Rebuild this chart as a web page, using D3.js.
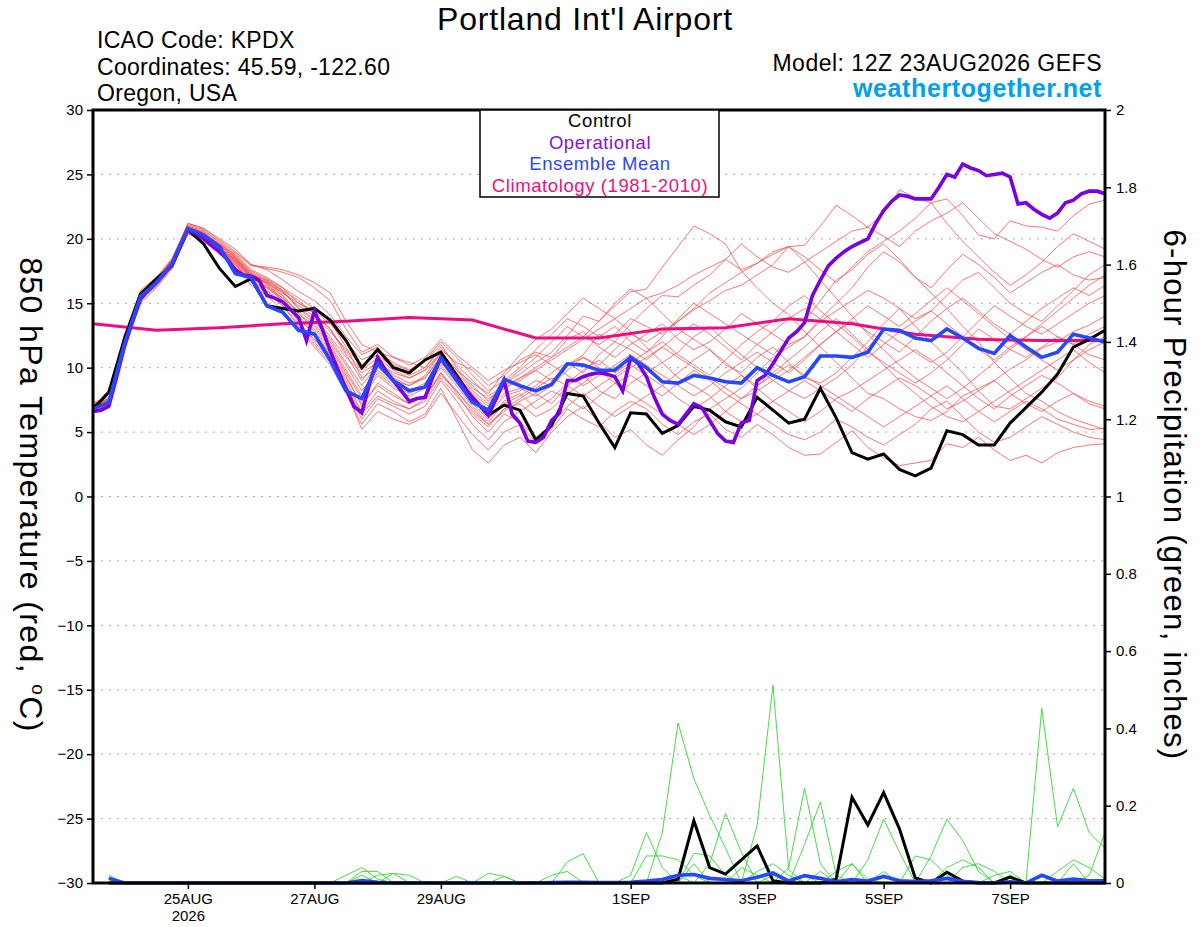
<!DOCTYPE html>
<html><head><meta charset="utf-8">
<script src="https://cdn.jsdelivr.net/npm/d3@7"></script>
<style>
body{margin:0;background:#fff}
svg{display:block}
text{font-family:"Liberation Sans",Arial,Helvetica,sans-serif}
</style>
</head><body>
<svg id="chart" width="1200" height="927"></svg>
<script>
// ---------------- DATA ----------------
const runStart = "2026-08-23T12:00:00Z";
const xTickDates = ["2026-08-25","2026-08-27","2026-08-29","2026-09-01","2026-09-03","2026-09-05","2026-09-07"];
const tempTicks = [-30,-25,-20,-15,-10,-5,0,5,10,15,20,25,30];
const tempGrid = [-25,-20,-15,-10,-5,0,5,10,15,20,25];
const precipTicks = [0,0.2,0.4,0.6,0.8,1,1.2,1.4,1.6,1.8,2];
const legendItems = ["Control","Operational","Ensemble Mean","Climatology (1981-2010)"];

// 6-hourly control 850 hPa temperature (65 steps)
const controlTemp = [6.8,8.1,12.3,15.7,16.9,17.9,20.7,19.6,17.7,16.3,
16.9,14.8,14.6,14.4,14.6,13.7,12.1,10.0,11.4,10.0,
9.6,10.6,11.2,9.4,7.6,6.3,7.1,6.7,4.4,5.5,
8.0,7.8,5.7,3.8,6.5,6.4,4.9,5.5,7.0,6.7,
5.8,5.4,7.7,6.7,5.7,6.0,8.4,6.1,3.4,2.9,
3.3,2.1,1.6,2.2,5.1,4.8,4.0,4.0,5.7,6.9,
8.1,9.5,11.6,12.2,12.9];

// 3-hourly operational (129 steps)
const operationalTemp = [6.6,6.7,7.0,9.3,11.7,13.6,15.3,16.0,16.6,17.3,
18.0,19.4,20.7,20.4,20.0,19.5,19.0,18.4,17.6,17.2,
17.1,16.8,15.6,15.4,15.1,14.5,13.9,12.1,14.4,13.0,
11.3,9.8,8.4,7.0,6.5,8.8,10.8,9.8,9.0,8.2,
7.4,7.6,7.7,9.3,10.8,10.0,9.2,8.4,7.7,7.0,
6.3,7.6,9.0,6.4,5.7,4.3,4.2,4.6,5.9,6.5,
9.0,9.0,9.3,9.5,9.6,9.5,9.3,8.2,10.8,10.3,
9.3,7.7,6.4,5.9,5.6,6.4,7.2,6.9,5.9,4.9,
4.3,4.2,5.7,5.9,9.0,9.4,10.3,11.3,12.3,12.8,
13.5,15.6,16.8,17.9,18.5,19.0,19.4,19.7,20.0,21.2,
22.2,22.9,23.4,23.3,23.1,23.1,23.1,24.0,25.0,24.8,
25.8,25.5,25.3,24.9,25.0,25.1,24.8,22.7,22.8,22.3,
21.9,21.6,22.0,22.8,23.0,23.5,23.7,23.7,23.5];

// 6-hourly ensemble mean
const meanTemp = [6.8,7.3,11.9,15.5,16.6,18.1,20.8,20.3,19.4,17.3,
17.0,14.8,14.3,12.9,12.6,10.6,8.2,7.6,10.3,9.0,
8.2,8.5,10.7,9.0,7.3,6.7,9.1,8.6,8.2,8.7,
10.3,10.2,9.8,9.8,10.8,10.0,8.9,8.8,9.4,9.2,
8.9,8.8,10.0,9.4,8.9,9.3,10.9,10.9,10.8,11.2,
13.0,12.9,12.3,12.1,13.0,12.3,11.5,11.1,12.5,11.6,
10.8,11.2,12.6,12.3,12.0];

// daily (12Z) climatology
const climTemp = [13.4,12.9,13.1,13.4,13.6,13.9,13.7,12.3,12.3,13.0,13.1,13.8,13.4,12.6,12.2,12.1,12.1];

// ensemble members, 6-hourly
const mem01 = [7.0,7.2,12.3,15.8,16.9,18.3,21.2,20.8,20.0,19.2,18.0, 17.6,16.8,15.9,15.2,14.1,12.4,11.0,11.6,10.2,9.8,10.5,11.8, 10.0,8.6,7.4,8.8,9.5,10.4,11.2,12.5,14.0,13.6,14.8,15.9, 16.1,17.8,19.4,21.0,20.4,19.6,17.5,16.2,15.0,14.1,12.8,11.6, 10.4,9.2,8.0,7.6,6.8,6.2,5.9,6.6,7.8,8.4,9.0,9.9, 10.6,11.5,12.0,12.8,13.3,14.0];
const mem02 = [6.6,7.0,11.6,15.2,16.4,17.9,20.6,20.4,19.6,18.8,17.6, 17.0,16.2,15.0,14.2,13.0,11.0,9.0,10.6,9.4,8.8,9.2,10.9, 9.2,7.8,6.8,8.0,8.4,7.8,8.6,9.8,10.8,10.2,11.4,12.6, 12.0,12.8,13.6,14.5,15.2,16.0,16.4,17.2,18.0,19.4,19.5,21.0, 22.6,21.8,20.9,22.0,23.8,23.2,22.8,23.1,21.8,20.3,20.0,21.4, 21.0,20.9,20.6,21.8,22.7,23.0];
const mem03 = [6.9,7.5,12.0,15.6,16.5,18.0,20.5,20.0,19.0,18.0,16.8, 16.0,15.0,13.8,12.6,11.0,9.0,6.5,8.2,7.4,6.8,7.6,9.6, 8.0,6.2,5.0,6.4,5.8,4.6,5.2,6.8,6.0,5.4,6.6,7.4, 6.8,5.6,4.8,5.8,6.4,5.2,4.6,5.6,4.8,3.8,3.2,3.3, 4.2,5.1,3.8,3.0,2.4,2.6,2.8,4.1,3.8,4.6,3.6,2.8, 3.2,2.6,3.4,3.8,4.0,4.1];
const mem04 = [7.2,7.6,12.6,15.9,16.8,18.4,21.0,20.6,19.8,18.9,17.9, 17.8,17.6,17.2,16.6,15.8,13.6,11.8,11.2,10.8,10.4,10.0,11.4, 10.4,9.8,8.6,9.4,10.6,11.2,10.8,12.2,12.8,11.6,10.8,11.8, 12.6,13.4,12.2,11.4,12.0,13.0,14.2,13.4,12.6,11.8,12.4,13.6, 14.4,15.2,16.0,15.4,14.6,13.8,14.4,15.6,16.8,17.4,16.2,15.0, 14.2,13.6,14.8,16.0,17.2,18.0];
const mem05 = [6.5,6.9,11.4,15.0,16.2,17.7,20.4,19.8,18.8,17.8,16.4, 15.6,14.4,13.0,11.6,10.2,8.0,5.6,7.2,6.6,5.8,6.4,8.4, 6.0,3.6,2.6,4.0,4.6,3.4,5.0,6.2,7.0,5.8,4.6,5.2, 4.0,3.2,4.4,5.4,6.8,7.6,8.4,9.6,10.8,11.6,12.4,13.8, 15.0,16.2,17.8,19.0,18.2,17.0,15.8,14.6,13.2,12.0,10.4,9.2, 8.0,7.4,6.6,6.0,5.6,5.2];
const mem06 = [7.1,7.4,12.2,15.7,16.7,18.2,20.9,20.5,19.5,18.6,17.4, 16.8,16.0,14.6,13.8,12.4,10.8,9.6,10.4,9.6,9.2,9.8,11.0, 9.6,8.2,7.2,8.8,9.8,10.8,12.0,13.2,12.4,13.6,15.0,16.1, 15.4,14.2,13.0,12.2,11.4,10.2,9.6,10.8,11.6,10.4,9.2,8.8, 9.6,10.8,12.0,13.4,14.6,13.2,12.0,10.8,9.6,8.2,7.0,6.8, 7.6,8.4,9.2,10.6,11.8,12.4];
const mem07 = [6.8,7.1,11.8,15.4,16.6,18.0,20.7,20.2,19.3,18.4,17.1, 16.4,15.6,14.2,13.2,11.8,9.8,7.8,9.6,8.6,8.0,8.6,10.2, 8.8,7.4,6.4,7.8,8.2,9.0,8.6,10.2,11.0,12.6,12.0,13.4, 14.6,15.6,15.5,16.4,17.2,18.4,19.6,18.6,17.8,17.4,18.2,19.0, 19.8,20.6,20.9,20.2,19.4,20.6,21.4,22.0,22.8,21.6,20.4,19.8, 19.2,18.4,17.8,18.6,19.0,18.6];
const mem08 = [7.0,7.3,12.1,15.6,16.6,18.1,20.8,20.3,19.4,18.3,17.0, 16.2,15.4,14.0,12.8,11.4,9.4,7.0,8.8,8.0,7.2,7.8,9.4, 8.2,6.8,5.6,6.6,7.4,8.0,7.2,8.6,9.4,8.2,7.6,8.8, 9.6,10.4,9.2,8.6,7.8,6.6,5.8,6.4,5.6,4.8,4.4,5.0, 6.0,5.4,4.6,4.0,4.8,5.6,6.8,7.4,6.2,5.0,4.2,4.6, 5.4,6.2,5.6,5.0,4.6,4.4];
const mem09 = [6.7,7.0,11.7,15.3,16.5,17.9,20.6,20.1,19.2,18.2,17.0, 16.6,15.8,15.0,14.4,13.4,12.0,10.6,11.2,10.4,9.8,10.6,12.0, 10.8,9.4,8.2,9.0,10.0,11.4,12.6,13.8,13.2,12.4,13.2,12.0, 11.2,12.4,13.8,15.0,14.2,13.4,12.6,11.8,11.0,12.2,13.6,15.2, 16.8,17.6,18.8,19.6,18.4,17.0,16.2,17.6,18.8,18.0,17.0,15.8, 16.6,17.4,18.0,17.2,16.8,17.0];
const mem10 = [6.9,7.4,12.4,15.8,16.8,18.2,20.9,20.4,19.3,18.0,16.6, 15.8,14.8,13.4,12.2,10.8,8.6,6.0,7.6,7.0,6.4,7.0,9.0, 7.4,5.6,4.4,5.8,6.6,7.4,8.2,7.6,6.8,7.8,8.8,9.4, 8.6,7.8,8.8,9.8,9.0,8.0,7.2,6.4,7.4,8.2,9.0,8.2, 7.4,6.6,7.6,8.4,9.2,8.6,7.8,6.8,7.4,8.2,9.0,8.0, 7.2,6.6,7.4,8.0,7.4,7.0];
const mem11 = [7.3,7.7,12.5,16.0,17.0,18.5,21.1,20.7,19.7,18.7,17.5, 16.9,16.2,15.4,14.6,13.6,11.6,9.2,10.0,9.0,8.6,9.4,11.2, 9.8,8.8,8.0,9.6,11.0,12.2,13.0,14.2,15.4,14.6,13.8,12.8, 11.6,10.4,11.2,12.4,13.2,12.0,11.0,10.0,9.0,8.2,7.6,8.4, 9.2,10.2,11.6,12.8,12.0,11.2,10.4,11.2,12.4,13.6,14.8,14.0, 13.2,12.6,13.4,14.2,15.0,15.6];
const mem12 = [6.6,7.1,11.9,15.4,16.4,17.8,20.5,20.0,19.1,18.1,16.9, 16.3,15.4,14.4,13.4,12.0,10.2,8.2,9.8,8.8,8.2,8.8,10.4, 9.0,7.2,6.0,7.4,8.0,6.8,7.6,8.8,9.8,10.6,9.6,10.4, 11.2,12.0,11.0,10.2,9.4,10.6,11.8,12.8,13.6,14.8,15.6,14.4, 13.4,12.4,11.2,10.4,9.6,8.8,9.6,10.6,11.8,13.0,12.2,11.4, 10.8,11.6,12.4,11.8,11.0,10.6];
const mem13 = [7.0,7.5,12.2,15.7,16.8,18.3,21.0,20.5,19.6,18.6,17.3, 16.5,15.2,13.6,12.0,10.6,8.2,5.2,6.6,6.0,5.6,6.2,8.0, 6.4,4.8,3.6,5.0,5.6,4.2,5.6,7.0,8.0,7.0,6.2,7.0, 7.8,8.6,7.6,6.8,7.6,8.6,9.4,8.4,7.4,6.6,5.8,6.6, 7.6,8.2,9.0,9.8,10.6,11.4,10.6,9.6,8.6,7.6,6.8,7.8, 8.6,9.4,8.8,8.0,7.2,6.8];
const mem14 = [6.8,7.2,12.0,15.5,16.6,18.0,20.6,20.2,19.2,18.3,17.1, 16.6,15.8,14.8,14.0,12.8,11.4,10.2,11.0,10.0,9.4,10.0,11.6, 10.2,9.0,7.8,8.6,9.2,10.0,10.8,11.6,12.4,11.8,12.6,13.8, 13.2,12.6,13.6,14.6,15.8,16.6,17.4,18.1,19.0,19.4,18.6,17.6, 16.6,17.8,19.0,19.8,20.6,21.6,22.8,21.2,19.8,18.6,17.4,16.4, 17.2,18.2,19.4,20.4,19.8,19.2];
const mem15 = [7.1,7.6,12.4,15.8,16.9,18.4,21.2,20.8,19.9,19.0,18.0, 17.7,17.4,17.0,16.2,15.2,13.0,11.2,11.8,10.8,10.2,10.8,12.2, 11.0,10.0,9.0,9.8,10.4,11.0,10.2,9.4,8.6,9.4,10.2,11.0, 10.2,9.4,8.6,7.8,8.6,9.6,10.4,11.2,10.4,9.6,10.6,11.8, 12.8,13.6,12.8,12.0,11.2,12.4,13.6,14.6,15.4,14.4,13.4,12.6, 13.6,14.6,15.4,16.2,15.6,16.4];
const mem16 = [6.7,7.1,11.8,15.3,16.3,17.8,20.4,19.9,18.9,17.9,16.7, 15.9,14.8,13.2,11.8,10.4,8.6,6.4,7.8,7.2,6.8,7.4,9.2, 7.8,6.4,5.4,6.8,7.6,8.4,9.2,8.6,7.8,8.6,9.4,10.2, 9.4,8.6,9.6,10.6,11.4,10.4,9.4,8.6,9.4,10.2,9.4,8.6, 7.8,7.0,6.2,5.4,6.2,7.0,7.8,8.6,7.6,6.6,5.8,6.6, 7.4,6.8,6.0,5.6,5.2,5.3];
const mem17 = [7.0,7.4,12.2,15.6,16.7,18.2,20.9,20.4,19.5,18.5,17.2, 16.6,15.6,14.2,13.0,11.6,9.6,7.6,9.4,8.4,7.8,8.4,10.0, 8.6,7.0,5.8,7.2,7.8,8.6,9.6,10.4,9.6,11.0,12.0,11.4, 10.6,11.6,12.6,13.4,12.6,11.6,10.6,11.8,12.8,13.8,14.6,13.8, 12.8,11.8,10.8,11.8,12.8,13.6,14.4,13.4,12.4,11.4,10.6,11.6, 12.4,13.2,12.4,11.8,12.6,13.2];
const mem18 = [6.9,7.3,12.0,15.5,16.5,18.0,20.7,20.2,19.3,18.4,17.2, 16.8,16.0,15.2,14.2,13.0,11.2,9.8,10.8,9.8,9.2,9.8,11.2, 9.8,8.4,7.6,8.4,9.2,9.8,9.0,10.2,10.8,10.0,9.2,10.0, 10.8,11.6,10.8,10.0,9.2,8.4,7.6,8.2,9.0,9.8,10.8,11.8, 12.8,13.8,14.8,14.0,13.2,14.2,15.2,16.2,15.2,14.2,13.2,12.2, 11.4,10.6,9.8,10.6,11.4,12.0];
const mem19 = [7.2,7.5,12.3,15.7,16.7,18.1,20.8,20.4,19.5,18.5,17.3, 16.7,15.9,14.6,13.6,12.2,10.4,8.6,10.2,9.2,8.6,9.2,10.8, 9.4,8.0,7.0,8.4,9.0,9.8,10.6,11.4,12.2,13.0,13.8,14.6, 15.4,15.8,16.4,17.2,17.8,18.4,17.6,18.1,18.8,19.4,18.2,16.8, 15.4,14.0,12.6,11.4,10.2,9.2,8.4,7.6,8.4,9.4,10.4,11.4, 12.4,13.4,14.4,15.4,16.4,17.2];
const mem20 = [6.8,7.2,11.9,15.4,16.5,18.0,20.7,20.2,19.3,18.2,17.0, 16.2,15.2,13.8,12.6,11.2,9.2,7.2,8.6,7.8,7.2,7.8,9.6, 8.2,6.6,5.6,6.8,7.2,6.2,6.8,8.0,8.8,9.8,8.8,8.0, 7.2,6.4,5.6,4.8,5.6,6.6,7.6,8.6,9.6,10.6,11.6,12.8, 13.8,12.6,11.4,10.2,9.0,8.0,7.0,6.2,5.8,6.6,7.4,8.2, 9.0,9.8,10.6,11.4,10.4,9.6];
const memberTemps = [mem01,mem02,mem03,mem04,mem05,mem06,mem07,mem08,mem09,mem10,mem11,mem12,mem13,mem14,mem15,mem16,mem17,mem18,mem19,mem20];

// 6-hour precipitation (inches), steps 1..64
const controlPrecip = [0,0,0,0,0,0,0,0, 0,0,0,0,0,0,0,0, 0,0,0,0,0,0,0,0, 0,0,0,0,0,0,0,0, 0,0,0,0,.01,.161,.04,.023, .06,.096,.006,0,0,0,.01,.222, .15,.234,.14,.013,0,.028,.005,0, 0,.015,0,0,0,0,0,0];
const meanPrecip = [.012,0,0,0,0,0,0,0, 0,0,0,0,0,0,0,0, .006,.002,0,0,0,0,0,0, 0,0,0,0,.001,.002,.002,.001, .001,.002,.005,.009,.02,.022,.012,.009, .006,.015,.026,.005,.019,.012,.003,.009, .005,.017,.006,.004,.006,.012,.004,.001, 0,.003,0,.02,.005,.01,.006,.006];
const pr01 = [.02,0,0,0,0,0,0,0, 0,0,0,0,0,0,0,0, .03,.03,0,0,0,0,0,0, 0,0,0,0,0,0,0,0, 0,0,0,.13,.414,.27,.175,.09, 0,0,0,0,0,0,0,0, 0,0,0,0,0,0,0,0, 0,0,0,0,0,0,0,0];
const pr02 = [0,0,0,0,0,0,0,0, 0,0,0,0,0,0,0,0, 0,0,0,0,0,0,.017,0, 0,0,0,0,0,0,0,0, 0,0,0,0,0,0,0,0, 0,.15,.512,.034,0,0,0,.05, 0,0,0,0,0,0,0,0, 0,0,0,0,0,0,0,0];
const pr03 = [0,0,0,0,0,0,0,0, 0,0,0,0,0,0,0,0, 0,0,0,0,0,0,0,0, 0,0,0,0,0,0,0,0, 0,0,0,0,0,0,0,0, 0,0,0,0,0,0,0,0, 0,0,0,0,0,0,0,0, 0,0,0,.452,.145,.245,.13,.09];
const pr04 = [0,0,0,0,0,0,0,0, 0,0,0,0,0,0,0,.02, .04,.01,0,0,0,0,0,0, 0,0,0,0,0,.055,.076,0, 0,0,0,0,0,0,0,0, 0,0,0,.04,.245,.05,0,0, 0,0,0,0,0,0,0,0, 0,0,0,0,0,0,0,0];
const pr05 = [0,0,0,0,0,0,0,0, 0,0,0,0,0,0,0,0, 0,0,0,0,0,0,0,0, 0,0,0,0,0,0,0,0, 0,0,0,0,0,0,.05,.18, .08,0,0,0,.10,.21,.02,0, 0,0,0,0,0,0,0,0, 0,0,0,0,0,0,.02,.13];
const pr06 = [0,0,0,0,0,0,0,0, 0,0,0,0,0,0,0,0, 0,0,0,0,0,0,0,0, .025,.017,0,0,0,0,0,0, 0,0,.07,.07,.06,.02,0,0, 0,0,0,0,0,0,0,0, .06,.165,.08,0,0,0,0,0, 0,0,0,0,0,0,0,0];
const pr07 = [0,0,0,0,0,0,0,0, 0,0,0,0,0,0,0,0, 0,0,0,0,0,0,0,0, 0,0,0,0,0,0,0,0, 0,0,0,0,0,.077,.07,.02, 0,0,0,0,0,0,0,0, 0,0,0,0,.07,.165,.11,.03, 0,0,0,0,0,0,0,0];
const pr08 = [.015,0,0,0,0,0,0,0, 0,0,0,0,0,0,0,0, 0,0,0,0,0,0,0,0, 0,0,0,0,0,0,0,0, 0,.02,.13,.04,0,0,0,0, 0,0,0,0,0,0,0,0, 0,0,0,.07,.06,.02,0,0, 0,0,0,0,0,0,0,0];
const pr09 = [0,0,0,0,0,0,0,0, 0,0,0,0,0,0,0,0, 0,0,.025,0,0,0,0,0, 0,0,0,0,0,0,0,0, 0,0,0,0,0,0,0,0, 0,.03,.05,.02,0,0,0,0, 0,0,0,0,0,0,0,0, .02,.03,0,0,0,.05,0,0];
const pr10 = [0,0,0,0,0,0,0,0, 0,0,0,0,0,0,0,0, 0,0,0,0,0,0,0,0, 0,.017,0,0,0,0,0,0, 0,0,0,0,0,0,0,0, .04,.02,0,0,0,0,.03,.05, .01,0,0,0,0,0,.04,.05, .03,0,0,0,0,0,0,0];
const pr11 = [.01,0,0,0,0,0,0,0, 0,0,0,0,0,0,0,0, .02,0,0,0,0,0,0,0, 0,0,0,0,0,0,0,0, 0,0,0,0,0,0,0,0, 0,0,.02,0,0,0,0,0, 0,.03,0,0,0,0,0,0, 0,0,0,0,.03,.06,.04,.01];
const pr12 = [0,0,0,0,0,0,0,0, 0,0,0,0,0,0,0,0, 0,.02,.025,.02,0,0,0,0, 0,0,0,0,0,0,0,0, 0,0,0,0,.02,0,0,0, 0,0,0,0,0,.03,0,0, 0,0,0,0,0,.04,.06,.04, 0,0,0,0,0,0,0,0];
const pr13 = [0,0,0,0,0,0,0,0, 0,0,0,0,0,0,0,0, 0,0,0,0,0,0,0,0, 0,0,0,0,.02,.03,0,0, 0,0,0,0,0,.05,0,0, 0,0,0,0,.02,0,0,0, 0,0,0,0,0,0,0,0, 0,.02,0,0,0,0,0,0];
const pr14 = [0,0,0,0,0,0,0,0, 0,0,0,0,0,0,0,0, 0,0,0,0,0,0,0,0, 0,0,0,0,0,0,0,0, 0,0,0,.01,0,0,0,0, 0,0,0,0,0,0,0,0, 0,.02,0,0,0,0,0,0, 0,0,0,0,0,0,0,0];
const memberPrecips = [pr01,pr02,pr03,pr04,pr05,pr06,pr07,pr08,pr09,pr10,pr11,pr12,pr13,pr14];

// ---------------- CHART ----------------
const svg = d3.select("#chart");
const L = 93, R = 1105, T = 110, B = 883;
const t0 = new Date(runStart).getTime();
const HR = 3600e3;
const tAt = (i, step) => new Date(t0 + i * step * HR);

const x = d3.scaleUtc().domain([new Date(t0), tAt(64, 6)]).range([L, R]);
const yT = d3.scaleLinear().domain([-30, 30]).range([B, T]);
const yP = d3.scaleLinear().domain([0, 2]).range([B, T]);

const line6 = d3.line().x((d, i) => x(tAt(i, 6))).y(d => yT(d));
const line3 = d3.line().x((d, i) => x(tAt(i, 3))).y(d => yT(d));
const lineDay = d3.line().x((d, i) => x(tAt(i, 24))).y(d => yT(d));
const lineP = d3.line().x((d, i) => x(tAt(i + 1, 6))).y(d => yP(d));

// grid
svg.append("g").selectAll("line").data(tempGrid).join("line")
  .attr("x1", L).attr("x2", R).attr("y1", d => yT(d)).attr("y2", d => yT(d))
  .attr("stroke", "#a8a8a8").attr("stroke-width", 1).attr("stroke-dasharray", "2,6");

const plot = svg.append("g");
plot.append("g").selectAll("path").data(memberTemps).join("path")
  .attr("d", line6).attr("fill", "none").attr("stroke", "#ff4040")
  .attr("stroke-width", 0.8).attr("stroke-opacity", 0.9);
plot.append("g").selectAll("path").data(memberPrecips).join("path")
  .attr("d", lineP).attr("fill", "none").attr("stroke", "#33d633")
  .attr("stroke-width", 0.9);
plot.append("path").datum(climTemp).attr("d", lineDay).attr("fill", "none")
  .attr("stroke", "#ee0c80").attr("stroke-width", 3);
plot.append("path").datum(controlTemp).attr("d", line6).attr("fill", "none")
  .attr("stroke", "#000").attr("stroke-width", 3);
plot.append("path").datum(operationalTemp).attr("d", line3).attr("fill", "none")
  .attr("stroke", "#7a00df").attr("stroke-width", 3.6);
plot.append("path").datum(meanTemp).attr("d", line6).attr("fill", "none")
  .attr("stroke", "#2448ff").attr("stroke-width", 3.6);
plot.append("path").datum(controlPrecip).attr("d", lineP).attr("fill", "none")
  .attr("stroke", "#000").attr("stroke-width", 3);
plot.append("path").datum(meanPrecip).attr("d", lineP).attr("fill", "none")
  .attr("stroke", "#2448ff").attr("stroke-width", 3.6);

// axes
const axL = svg.append("g").attr("transform", `translate(${L},0)`)
  .call(d3.axisLeft(yT).tickValues(tempTicks).tickSize(6).tickPadding(4).tickFormat(d3.format("d")));
const axR = svg.append("g").attr("transform", `translate(${R},0)`)
  .call(d3.axisRight(yP).tickValues(precipTicks).tickSize(6).tickPadding(5).tickFormat(d3.format("~g")));
const fmtDay = d3.utcFormat("%-d%b");
const axB = svg.append("g").attr("transform", `translate(0,${B})`)
  .call(d3.axisBottom(x).tickValues(xTickDates.map(s => new Date(s + "T00:00:00Z")))
    .tickSize(6).tickPadding(4).tickFormat(d => fmtDay(d).toUpperCase()));
[axL, axR, axB].forEach(a => {
  a.select(".domain").remove();
  a.selectAll(".tick line").attr("stroke", "#000").attr("stroke-width", 1.5);
  a.selectAll(".tick text").attr("font-size", 15).attr("fill", "#000")
    .attr("font-family", "'Liberation Sans',Arial,sans-serif");
});
axB.select(".tick text").each(function() {
  const t = d3.select(this);
  const label = t.text();
  t.text(null);
  t.append("tspan").attr("x", 0).text(label);
  t.append("tspan").attr("x", 0).attr("dy", "1.15em").text("2026");
});

// frame
svg.append("rect").attr("x", L).attr("y", T).attr("width", R - L).attr("height", B - T)
  .attr("fill", "none").attr("stroke", "#000").attr("stroke-width", 3);

// legend
const lg = svg.append("g");
lg.append("rect").attr("x", 480).attr("y", T).attr("width", 239).attr("height", 87)
  .attr("fill", "#fff").attr("stroke", "#000").attr("stroke-width", 1.5);
const legendColors = ["#000", "#8a0fe0", "#2a48ff", "#f0107f"];
lg.selectAll("text").data(legendItems).join("text")
  .attr("x", 600).attr("y", (d, i) => 127 + i * 21.7).attr("text-anchor", "middle")
  .attr("font-size", 18.5).attr("letter-spacing", 0.6)
  .attr("fill", (d, i) => legendColors[i]).text(d => d);

// titles
svg.append("text").attr("x", 585).attr("y", 30).attr("text-anchor", "middle")
  .attr("font-size", 32).attr("letter-spacing", 0.8).text("Portland Int'l Airport");
const info = ["ICAO Code: KPDX", "Coordinates: 45.59, -122.60", "Oregon, USA"];
svg.selectAll(".info").data(info).join("text").attr("class", "info")
  .attr("x", 97).attr("y", (d, i) => 48 + i * 26.5).attr("font-size", 23)
  .attr("letter-spacing", 0.3).text(d => d);
svg.append("text").attr("x", 1102).attr("y", 71).attr("text-anchor", "end")
  .attr("font-size", 23).attr("letter-spacing", 0.5).text("Model: 12Z 23AUG2026 GEFS");
svg.append("text").attr("x", 1102).attr("y", 97).attr("text-anchor", "end")
  .attr("font-size", 25).attr("font-weight", "bold").attr("letter-spacing", 0.6)
  .attr("fill", "#00a0f0").text("weathertogether.net");

// axis titles
const lt = svg.append("text").attr("transform", "translate(20,495) rotate(90)")
  .attr("text-anchor", "middle").attr("font-size", 32).attr("letter-spacing", 1.4);
lt.append("tspan").text("850 hPa Temperature (red, ");
lt.append("tspan").attr("font-size", 19).attr("dy", -12).text("o");
lt.append("tspan").attr("dy", 12).text("C)");
svg.append("text").attr("transform", "translate(1164,495) rotate(90)")
  .attr("text-anchor", "middle").attr("font-size", 31).attr("letter-spacing", 1.3)
  .text("6-hour Precipitation (green, inches)");
</script>
</body></html>
